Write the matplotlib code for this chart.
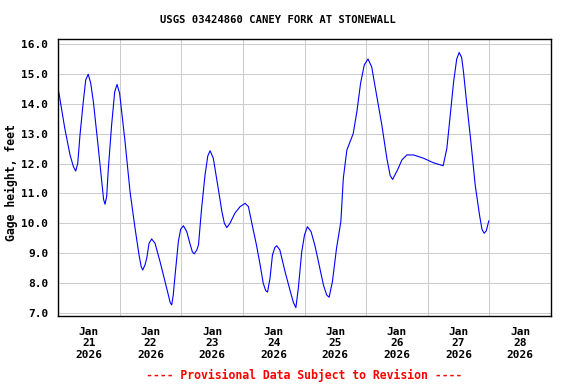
import numpy as np
import matplotlib
matplotlib.use("Agg")
import matplotlib.pyplot as plt

# days since Jan 21 2026 00:00, gage height in feet
day_offset = [
    0.00, 0.11, 0.195, 0.25, 0.287, 0.32, 0.357, 0.41, 0.45, 0.49, 0.53, 0.574,
    0.655, 0.71, 0.74, 0.763, 0.79, 0.817, 0.87, 0.92, 0.958, 1.0, 1.088, 1.169,
    1.25, 1.315, 1.35, 1.375, 1.41, 1.44, 1.477, 1.52, 1.575, 1.656, 1.737, 1.79,
    1.82, 1.845, 1.87, 1.9, 1.953, 1.99, 2.035, 2.09, 2.14, 2.18, 2.21, 2.25,
    2.28, 2.33, 2.386, 2.43, 2.468, 2.52, 2.6, 2.66, 2.70, 2.74, 2.79, 2.87,
    2.955, 3.036, 3.09, 3.14, 3.22, 3.28, 3.33, 3.37, 3.40, 3.44, 3.48, 3.52,
    3.55, 3.6, 3.685, 3.77, 3.82, 3.86, 3.9, 3.955, 4.0, 4.047, 4.107, 4.17,
    4.226, 4.307, 4.36, 4.40, 4.453, 4.52, 4.59, 4.63, 4.687, 4.79, 4.85, 4.91,
    4.97, 5.03, 5.09, 5.17, 5.255, 5.336, 5.39, 5.43, 5.51, 5.58, 5.66, 5.77,
    5.93, 6.09, 6.25, 6.31, 6.36, 6.42, 6.47, 6.51, 6.55, 6.58, 6.635, 6.7,
    6.77, 6.84, 6.88, 6.915, 6.95, 6.99,
]
gage_height = [
    14.55, 13.18, 12.29, 11.9, 11.75, 12.0, 12.96, 14.07, 14.8, 14.99, 14.7, 14.07,
    12.51, 11.4, 10.8, 10.64, 10.9, 11.84, 13.29, 14.4, 14.65, 14.35, 12.73, 11.06,
    9.84, 8.94, 8.55, 8.44, 8.6, 8.83, 9.33, 9.48, 9.33, 8.72, 8.05, 7.61,
    7.35, 7.27, 7.6, 8.27, 9.39, 9.8, 9.92, 9.72, 9.33, 9.05, 8.98, 9.1,
    9.28, 10.5, 11.62, 12.25, 12.43, 12.18, 11.17, 10.39, 10.0, 9.86, 10.0, 10.34,
    10.56, 10.67, 10.56, 10.06, 9.28, 8.61, 8.0, 7.75, 7.7, 8.16, 8.94, 9.2,
    9.25, 9.11, 8.38, 7.72, 7.35, 7.18, 7.83, 9.05, 9.61, 9.89, 9.72, 9.25,
    8.72, 7.94, 7.6, 7.53, 8.05, 9.17, 10.06, 11.51, 12.45, 13.0, 13.74, 14.69,
    15.3, 15.5, 15.24, 14.29, 13.29, 12.18, 11.6, 11.47, 11.79, 12.12, 12.29, 12.29,
    12.18, 12.03, 11.93, 12.51, 13.52, 14.74, 15.5, 15.72, 15.55, 15.07, 13.96, 12.73,
    11.28, 10.28, 9.8, 9.67, 9.75, 10.08,
]
day_labels = ["Jan\n21\n2026", "Jan\n22\n2026", "Jan\n23\n2026", "Jan\n24\n2026",
              "Jan\n25\n2026", "Jan\n26\n2026", "Jan\n27\n2026", "Jan\n28\n2026"]
y_ticks = [7, 8, 9, 10, 11, 12, 13, 14, 15, 16]

MONO = "DejaVu Sans Mono"

fig = plt.figure(figsize=(5.76, 3.84), dpi=100)
ax = fig.add_axes([58 / 576, 1 - 316 / 384, 493 / 576, 277 / 384])

ax.plot(day_offset, gage_height, color="#0000ff", linewidth=0.8)

ax.set_xlim(0, 8)
ax.set_ylim(6.9, 16.17)

# gridlines at day boundaries, labels centred on each day
ax.set_xticks(np.arange(1, 8))
ax.set_xticklabels([])
ax.set_xticks(np.arange(len(day_labels)) + 0.5, minor=True)
ax.set_xticklabels(day_labels, minor=True, fontfamily=MONO, fontweight="bold",
                   fontsize=8, linespacing=1.15)
ax.tick_params(axis="x", which="both", length=0, pad=8)

ax.set_yticks(y_ticks)
ax.set_yticklabels([f"{v:.1f}" for v in y_ticks], fontfamily=MONO,
                   fontweight="bold", fontsize=8)
ax.tick_params(axis="y", length=0, pad=7)

ax.grid(True, which="major", color="#cccccc", linewidth=0.75)
ax.set_axisbelow(True)
for spine in ax.spines.values():
    spine.set_linewidth(1.0)
    spine.set_color("black")

fig.text(277.5 / 576, 1 - 20 / 384, "USGS 03424860 CANEY FORK AT STONEWALL",
         ha="center", va="center", fontfamily=MONO, fontweight="bold", fontsize=7.6)
fig.text(11.5 / 576, 1 - 182.5 / 384, "Gage height, feet", rotation=90,
         ha="center", va="center", fontfamily=MONO, fontweight="bold", fontsize=8.3)
fig.text(304 / 576, 1 - 375 / 384, "---- Provisional Data Subject to Revision ----",
         ha="center", va="center", color="red", fontfamily=MONO,
         fontweight="bold", fontsize=8.3)

fig.savefig("out.png", dpi=100)
